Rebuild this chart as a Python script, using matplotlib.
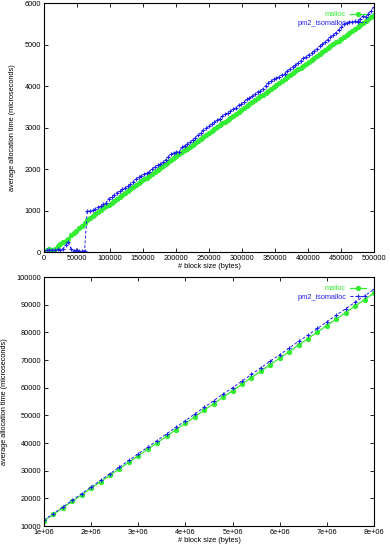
import matplotlib
matplotlib.use("Agg")
import matplotlib.pyplot as plt
from matplotlib.ticker import FuncFormatter

plt.rcParams['font.family'] = ['Liberation Sans', 'DejaVu Sans']
plt.rcParams['font.size'] = 5.3

GREEN = '#33ee33'
BLUE = '#2020ee'

# small blocks: one sample every 4096 bytes
small_step = 4096
small_malloc = [
    20, 60, 70, 60, 70, 140, 200, 240, 270, 310, 400, 450, 510, 580, 640, 700,
    774, 820, 867, 913, 960, 1006, 1053, 1099, 1146, 1192, 1239, 1285, 1332, 1378,
    1425, 1471, 1518, 1564, 1611, 1657, 1704, 1750, 1797, 1843, 1890, 1936, 1983, 2029,
    2076, 2122, 2169, 2215, 2262, 2308, 2355, 2401, 2448, 2494, 2541, 2587, 2634, 2680,
    2727, 2773, 2820, 2866, 2913, 2959, 3006, 3052, 3099, 3145, 3192, 3238, 3285, 3331,
    3378, 3424, 3471, 3517, 3564, 3610, 3657, 3703, 3750, 3796, 3843, 3889, 3936, 3982,
    4029, 4075, 4122, 4168, 4215, 4261, 4308, 4354, 4401, 4447, 4494, 4540, 4587, 4633,
    4680, 4726, 4773, 4819, 4866, 4912, 4959, 5005, 5052, 5098, 5145, 5191, 5238, 5284,
    5331, 5377, 5424, 5470, 5517, 5563, 5610, 5656, 5703,
]
small_iso = [
    0, 50, 60, 40, 50, 70, 60, 80, 160, 250, 80, 30, 40, 30, 30, 30,
    1000, 985, 1005, 1040, 1075, 1110, 1150, 1190, 1290, 1335, 1380, 1430, 1470, 1510,
    1550, 1590, 1635, 1690, 1760, 1805, 1845, 1870, 1900, 1940, 2000, 2060, 2090, 2120,
    2160, 2220, 2300, 2360, 2390, 2410, 2420, 2520, 2560, 2610, 2650, 2700, 2760, 2820,
    2880, 2930, 2980, 3030, 3090, 3130, 3180, 3210, 3270, 3320, 3350, 3390, 3440, 3480,
    3540, 3580, 3610, 3680, 3710, 3750, 3800, 3860, 3890, 3930, 4000, 4080, 4130, 4160,
    4190, 4230, 4270, 4300, 4360, 4410, 4460, 4500, 4560, 4610, 4670, 4710, 4760, 4800,
    4850, 4900, 4960, 5010, 5060, 5120, 5180, 5230, 5290, 5360, 5420, 5490, 5530, 5550,
    5545, 5560, 5565, 5620, 5680, 5660, 5740, 5810, 5910,
]
small_sizes = [k * small_step for k in range(len(small_malloc))]

# large blocks: from 1e6 every 200000 bytes
big_start = 1000000
big_step = 200000
big_malloc = [
    11900, 14250, 16600, 18950, 21300, 23660, 26010, 28360, 30710, 33060, 35410, 37760,
    40110, 42460, 44810, 47170, 49520, 51870, 54220, 56570, 58920, 61270, 63620, 65970,
    68320, 70680, 73030, 75380, 77730, 80080, 82430, 84780, 87130, 89480, 91830, 94190,
]
big_iso = [
    12100, 14500, 16900, 19300, 21700, 24100, 26500, 28900, 31300, 33700, 36100, 38500,
    40900, 43300, 45700, 48100, 50500, 52900, 55300, 57700, 60000, 62400, 64800, 67200,
    69600, 71900, 74300, 76700, 79000, 81400, 83800, 86200, 88500, 90900, 93200, 95500,
]
big_sizes = [big_start + i * big_step for i in range(len(big_malloc))]


def drawPanel(ax, sizes, malloc, iso, xticks, yticks, xfmt=None):
    ax.plot(sizes, malloc, color=GREEN, marker='o', markersize=2.8, linewidth=0.9,
            label='malloc')
    ax.plot(sizes, iso, color=BLUE, marker='+', markersize=3, markeredgewidth=0.8,
            linewidth=0.7, dashes=(3, 2), label='pm2_isomalloc')
    ax.set_xlim(xticks[0], xticks[-1])
    ax.set_ylim(yticks[0], yticks[-1])
    ax.set_xticks(xticks)
    ax.set_yticks(yticks)
    if xfmt is not None:
        ax.xaxis.set_major_formatter(FuncFormatter(xfmt))
    ax.tick_params(direction='in', top=True, right=True, length=3, width=0.6, pad=2)
    for s in ax.spines.values():
        s.set_linewidth(0.8)
    ax.set_xlabel('# block size (bytes)', labelpad=1)
    ax.set_ylabel('average allocation time (microseconds)', labelpad=6)
    ax.legend(loc='upper right', frameon=False, markerfirst=False, labelcolor='linecolor',
              handlelength=2.2, handletextpad=0.5, borderpad=0.6, labelspacing=0.15)


fig = plt.figure(figsize=(3.9, 5.48), dpi=100)
ax1 = fig.add_axes([0.1128, 0.540, 0.846, 0.4544])
ax2 = fig.add_axes([0.1128, 0.0401, 0.846, 0.4544])

drawPanel(ax1, small_sizes, small_malloc, small_iso,
          list(range(0, 500001, 50000)), list(range(0, 6001, 1000)))
drawPanel(ax2, big_sizes, big_malloc, big_iso,
          list(range(1000000, 8000001, 1000000)), list(range(10000, 100001, 10000)),
          xfmt=lambda v, p: '%de+06' % round(v / 1e6))

fig.savefig('out.png', dpi=100)
